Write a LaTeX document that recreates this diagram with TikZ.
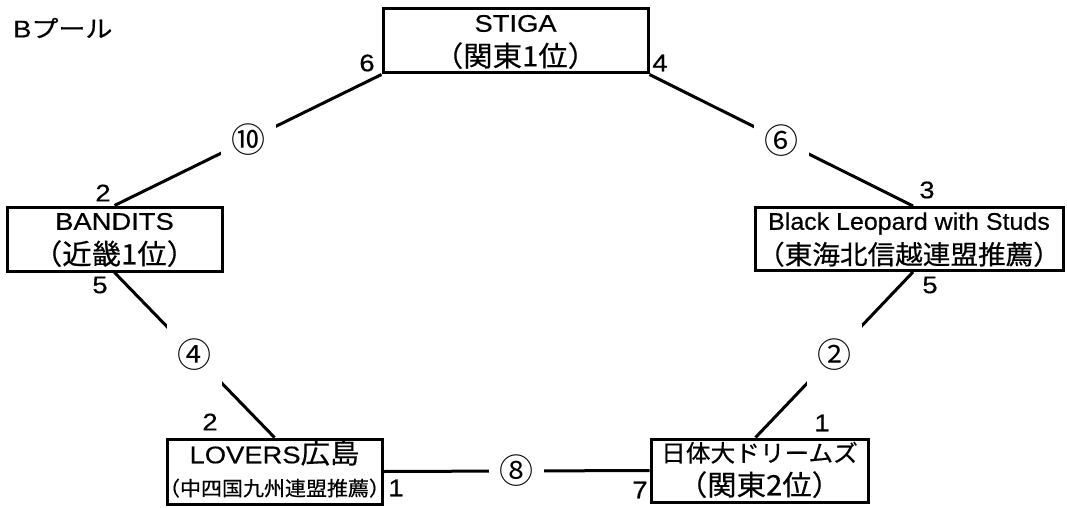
\documentclass[tikz,border=0pt]{standalone}
\usepackage{fontspec}
\setmainfont{Liberation Sans}[FakeStretch=1.14,FakeBold=0.5]
\newfontfamily\latn{Liberation Sans}[FakeStretch=1.04,FakeBold=0.5]
\newfontfamily\jp{Noto Sans CJK JP}[FakeStretch=1.05,FakeBold=0.5]
\newfontfamily\jpt{Noto Sans CJK JP}[FakeStretch=1.15,FakeBold=0.5]
\newfontfamily\jpc{Noto Sans CJK JP}
\newcommand\J[1]{{\jp\fontsize{28}{34.5}\selectfont #1}}
\newcommand\Jb[1]{{\jp\fontsize{26.3}{34.5}\selectfont #1}}
\newcommand\Jm[1]{{\jp\fontsize{23.5}{34.5}\selectfont #1}}
\newcommand\Js[1]{{\jp\fontsize{20}{34.5}\selectfont #1}}
\newcommand\Ln[1]{\raisebox{0pt}[22pt][6pt]{\makebox[0pt]{#1}}}
\begin{document}
\begin{tikzpicture}[x=1pt,y=-1pt,
  team/.style={draw, line width=3pt, inner sep=0pt, align=center,
    font=\fontsize{24}{34.5}\selectfont},
  link/.style={line width=3pt},
  num/.style={fill=white, inner sep=0pt, minimum width=55pt, minimum height=62pt,
    font=\jpc\fontsize{34}{34}\selectfont},
  lbl/.style={inner sep=0pt, font=\fontsize{24}{24}\selectfont}]
\useasboundingbox (0,0) rectangle (1067,508);

\node[inner sep=0pt, anchor=west, font=\fontsize{24}{24}\selectfont] (title) at (13,28)
  {B{\jpt\fontsize{23.5}{24}\selectfont プール}};

\node[team, minimum width=265pt, minimum height=64pt] (stiga) at (515.5,41)
  {\Ln{STIGA}\\\Ln{\J{（関東1位）}}};
\node[team, minimum width=215pt, minimum height=64pt] (bandits) at (114.5,239)
  {\Ln{BANDITS}\\\Ln{\J{（近畿1位）}}};
\node[team, minimum width=308pt, minimum height=63pt] (bl) at (909,239)
  {\Ln{\latn Black Leopard with Studs}\\\Ln{\Jb{（東海北信越連盟推薦）}}};
\node[team, minimum width=215pt, minimum height=65pt] (lovers) at (274.5,471.5)
  {\Ln{LOVERS\J{広島}}\\[-2pt]\Ln{\Js{（中四国九州連盟推薦）}}};
\node[team, minimum width=217pt, minimum height=63pt] (nichi) at (759.5,470.5)
  {\Ln{\Jm{日体大ドリームズ}}\\[-1pt]\Ln{\J{（関東2位）}}};

\draw[link] (stiga.south west) -- node[num] (m10) {⑩} (bandits.north);
\draw[link] (stiga.south east) -- node[num] (m6) {⑥} ([xshift=4pt]bl.north);
\draw[link] (bandits.south) -- node[num] (m4) {④} (lovers.north);
\draw[link] ([xshift=4pt]bl.south) -- node[num] (m2) {②} ([xshift=-4pt]nichi.north);
\draw[link] (lovers.east) -- node[num] (m8) {⑧} (nichi.west);

\node[lbl] (s1) at (367,63) {6};
\node[lbl] (s2) at (660,63) {4};
\node[lbl] (s3) at (103,193) {2};
\node[lbl] (s4) at (927,190) {3};
\node[lbl] (s5) at (100,285) {5};
\node[lbl] (s6) at (930,285) {5};
\node[lbl] (s7) at (210,422) {2};
\node[lbl] (s8) at (396,488) {1};
\node[lbl] (s9) at (640,490) {7};
\node[lbl] (s10) at (822,423) {1};
\end{tikzpicture}
\end{document}
